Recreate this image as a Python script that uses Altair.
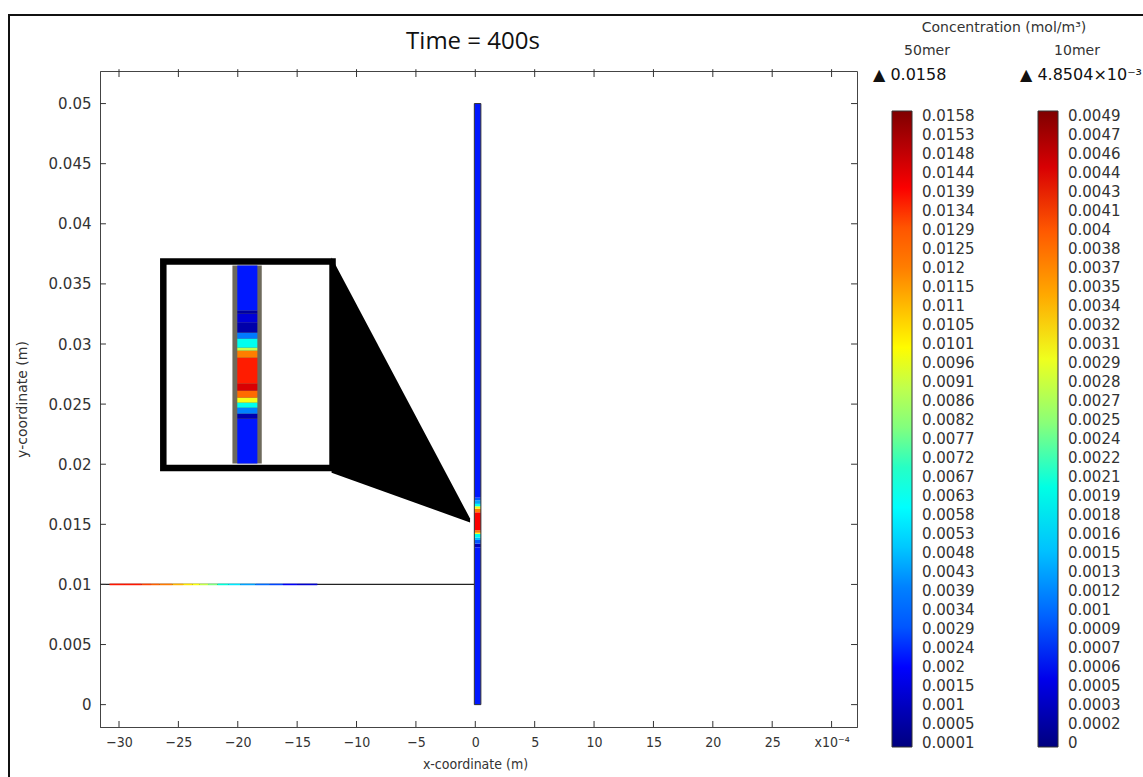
import altair as alt
import pandas as pd

# ---------------- data (x in units of 1e-4 m, y in m) ----------------
x_ticks = [-30, -25, -20, -15, -10, -5, 0, 5, 10, 15, 20, 25, 30]
y_ticks = [0.0, 0.005, 0.01, 0.015, 0.02, 0.025, 0.03, 0.035, 0.04, 0.045, 0.05]
X_DOMAIN = [-31.60, 32.14]
Y_DOMAIN = [-0.00186, 0.05271]

# colour-bar labels (top to bottom as printed)
labels_50mer = ["0.0158", "0.0153", "0.0148", "0.0144", "0.0139", "0.0134", "0.0129",
                "0.0125", "0.012", "0.0115", "0.011", "0.0105", "0.0101", "0.0096",
                "0.0091", "0.0086", "0.0082", "0.0077", "0.0072", "0.0067", "0.0063",
                "0.0058", "0.0053", "0.0048", "0.0043", "0.0039", "0.0034", "0.0029",
                "0.0024", "0.002", "0.0015", "0.001", "0.0005", "0.0001"]
labels_10mer = ["0.0049", "0.0047", "0.0046", "0.0044", "0.0043", "0.0041", "0.004",
                "0.0038", "0.0037", "0.0035", "0.0034", "0.0032", "0.0031", "0.0029",
                "0.0028", "0.0027", "0.0025", "0.0024", "0.0022", "0.0021", "0.0019",
                "0.0018", "0.0016", "0.0015", "0.0013", "0.0012", "0.001", "0.0009",
                "0.0007", "0.0006", "0.0005", "0.0003", "0.0002", "0"]
domain_50mer = [0.0, 0.015925]
domain_10mer = [-0.0000313, 0.004939]
max_50mer = "0.0158"
max_10mer = "4.8504×10⁻³"

# vertical channel at x ~ 0 (50mer concentration along y)
channel_x = [-0.08, 0.47]
strip_edges = [0.0, 0.0131, 0.0134, 0.0137, 0.0139, 0.0142, 0.0143, 0.0145, 0.0160,
               0.0163, 0.0165, 0.0167, 0.0170, 0.0172, 0.05]
strip_c = [0.0021, 0.0010, 0.0030, 0.0048, 0.0063, 0.0098, 0.0120, 0.0140, 0.0120,
           0.0098, 0.0063, 0.0045, 0.0030, 0.0021]

# horizontal inlet line at y = 0.01 (10mer concentration along x)
line_y = 0.01
line_extent = [-31.60, -0.08]
line_edges = [-30.8, -29.5, -28.1, -27.3, -26.6, -25.5, -24.6, -23.8, -23.2, -22.5,
              -21.7, -20.8, -19.8, -18.5, -17.3, -16.2, -15.0, -13.3]
line_c = [0.00429, 0.00429, 0.00414, 0.00395, 0.00375, 0.00345, 0.00320, 0.00305,
          0.00280, 0.00246, 0.00206, 0.00171, 0.00136, 0.00106, 0.00081, 0.00057, 0.00037]

# magnified inset of the channel
inset_box = {"x0": -26.27, "x1": -12.02, "y0": 0.01969, "y1": 0.03687}
inset_wall_x = [-20.45, -17.98]
inset_core_x = [-20.04, -18.35]
inset_edges = [0.02005, 0.02379, 0.02421, 0.02471, 0.02513, 0.02554, 0.02612, 0.02671,
               0.02887, 0.02945, 0.02970, 0.03045, 0.03095, 0.03178, 0.03253, 0.03278,
               0.03652]
inset_c = [0.0021, 0.0008, 0.0040, 0.0063, 0.0098, 0.0125, 0.0145, 0.0138, 0.0120,
           0.0090, 0.0063, 0.0038, 0.0007, 0.0014, 0.0005, 0.0021]
wedge_x = [-12.10, -0.44]
wedge_top = [0.03719, 0.01548]
wedge_bottom = [0.01930, 0.01515]

JET = ["#00007f", "#0000ff", "#0080ff", "#00ffff", "#80ff80",
       "#ffff00", "#ff8000", "#ff0000", "#7f0000"]

SANS = "DejaVu Sans"
COND = "DejaVu Sans Condensed, Liberation Sans Narrow, DejaVu Sans"
TXT = "#333333"

# ---------------- scales / axes ----------------
xs = alt.Scale(domain=X_DOMAIN, nice=False, zero=False)
ys = alt.Scale(domain=Y_DOMAIN, nice=False, zero=False)

x_axis = alt.Axis(values=x_ticks, ticks=False, tickSize=0, grid=False, format="d",
                  labelExpr="datum.value == 30 ? 'x10⁻⁴' : datum.label",
                  labelFont=COND, labelFontSize=14, labelColor=TXT, labelPadding=8,
                  title="x-coordinate (m)", titleFont=COND, titleFontSize=14,
                  titleFontWeight="normal", titleColor=TXT, titleX=375, titleY=37,
                  titleAlign="center", titleBaseline="middle")
y_axis = alt.Axis(values=y_ticks, ticks=False, tickSize=0, grid=False, format="~g",
                  labelFont=SANS, labelFontSize=15, labelColor=TXT, labelPadding=9,
                  title="y-coordinate (m)", titleFont=SANS, titleFontSize=14,
                  titleFontWeight="normal", titleColor=TXT, titleX=-78, titleY=328,
                  titleAngle=270, titleAlign="center", titleBaseline="middle")


def X(f):
    return alt.X(f, type="quantitative", scale=xs, axis=x_axis)


def Y(f):
    return alt.Y(f, type="quantitative", scale=ys, axis=y_axis)


def legend_for(labels, domain, lx):
    n = len(labels)
    lo = float(labels[-1])
    hi = float(labels[0])
    step = (hi - lo) / (n - 1)
    positions = [lo + k * step for k in range(n)]
    arr = "[" + ",".join("'%s'" % s for s in reversed(labels)) + "]"
    expr = "%s[round((datum.value - %r) / %r)]" % (arr, lo, step)
    return alt.Legend(orient="none", legendX=lx, legendY=40, direction="vertical",
                      title=None, gradientLength=636, gradientThickness=20,
                      gradientStrokeColor="#333", gradientStrokeWidth=1,
                      values=positions, labelExpr=expr, labelFont=SANS,
                      labelFontSize=15, labelColor=TXT, labelOffset=10,
                      labelOverlap=False, labelBaseline="middle", padding=0)


color50 = alt.Color("c:Q", scale=alt.Scale(domain=domain_50mer, range=JET, nice=False,
                                           clamp=True),
                    legend=legend_for(labels_50mer, domain_50mer, 792))
color10 = alt.Color("c:Q", scale=alt.Scale(domain=domain_10mer, range=JET, nice=False,
                                           clamp=True),
                    legend=legend_for(labels_10mer, domain_10mer, 938))

# ---------------- tables ----------------
strip_df = pd.DataFrame({"y0": strip_edges[:-1], "y1": strip_edges[1:], "c": strip_c,
                         "x0": channel_x[0], "x1": channel_x[1]})
line_df = pd.DataFrame({"x0": line_edges[:-1], "x1": line_edges[1:], "c": line_c,
                        "y": line_y})
inset_df = pd.DataFrame({"y0": inset_edges[:-1], "y1": inset_edges[1:], "c": inset_c,
                         "x0": inset_core_x[0], "x1": inset_core_x[1]})
wedge_df = pd.DataFrame({"x": wedge_x, "y": wedge_top, "y2": wedge_bottom})

tx = 0.5      # inward tick length in x units
ty = 0.0005   # inward tick length in y units
bottom_ticks = pd.DataFrame({"x": x_ticks, "y0": Y_DOMAIN[0], "y1": Y_DOMAIN[0] + ty})
top_ticks = pd.DataFrame({"x": x_ticks, "y0": Y_DOMAIN[1] - ty, "y1": Y_DOMAIN[1] + 0.00015})
left_ticks = pd.DataFrame({"y": y_ticks, "x0": X_DOMAIN[0], "x1": X_DOMAIN[0] + tx})
right_ticks = pd.DataFrame({"y": y_ticks, "x0": X_DOMAIN[1] - tx, "x1": X_DOMAIN[1]})
one = pd.DataFrame({"k": [0]})

# ---------------- layers ----------------
black_line = alt.Chart(pd.DataFrame({"x0": [line_extent[0]], "x1": [line_extent[1]],
                                     "y": [line_y]})).mark_rule(
    color="#222", strokeWidth=1.2).encode(x=X("x0"), x2="x1", y=Y("y"))

colored_line = alt.Chart(line_df).mark_rule(strokeWidth=1.6).encode(
    x=X("x0"), x2="x1", y=Y("y"), color=color10)

inset_frame = alt.Chart(pd.DataFrame([inset_box])).mark_rect(
    fill="white", stroke="black", strokeWidth=6.5).encode(
    x=X("x0"), x2="x1", y=Y("y0"), y2="y1")

inset_wall = alt.Chart(pd.DataFrame({"x0": [inset_wall_x[0]], "x1": [inset_wall_x[1]],
                                     "y0": [inset_edges[0]], "y1": [inset_edges[-1]]})
                       ).mark_rect(fill="#6e6a5c").encode(
    x=X("x0"), x2="x1", y=Y("y0"), y2="y1")

strip_rects = alt.Chart(strip_df).mark_rect().encode(
    x=X("x0"), x2="x1", y=Y("y0"), y2="y1", color=color50)
inset_rects = alt.Chart(inset_df).mark_rect().encode(
    x=X("x0"), x2="x1", y=Y("y0"), y2="y1", color=color50)
main50 = alt.layer(strip_rects, inset_rects)

strip_outline = alt.Chart(pd.DataFrame({"x0": [channel_x[0]], "x1": [channel_x[1]],
                                        "y0": [strip_edges[0]], "y1": [strip_edges[-1]]})
                          ).mark_rect(fillOpacity=0, stroke="#333", strokeWidth=1).encode(
    x=X("x0"), x2="x1", y=Y("y0"), y2="y1")

wedge = alt.Chart(wedge_df).mark_area(color="black").encode(
    x=X("x"), y=Y("y"), y2="y2")

tick_style = dict(color="#333", strokeWidth=1)
t_bottom = alt.Chart(bottom_ticks).mark_rule(**tick_style).encode(x=X("x"), y=Y("y0"), y2="y1")
t_top = alt.Chart(top_ticks).mark_rule(**tick_style).encode(x=X("x"), y=Y("y0"), y2="y1")
t_left = alt.Chart(left_ticks).mark_rule(**tick_style).encode(y=Y("y"), x=X("x0"), x2="x1")
t_right = alt.Chart(right_ticks).mark_rule(**tick_style).encode(y=Y("y"), x=X("x0"), x2="x1")


def label(text, x, y, size, font=SANS, align="center", color=TXT):
    return alt.Chart(one).mark_text(text=text, font=font, fontSize=size, align=align,
                                    baseline="middle", color=color).encode(
        x=alt.value(x), y=alt.value(y))


texts = [
    label("Time = 400s", 373, -29, 24, font="Open Sans", color="#111"),
    label("Concentration (mol/m³)", 904, -43, 14),
    label("50mer", 827, -20, 14),
    label("10mer", 977, -20, 14),
    label("▲ " + max_50mer, 773, 4, 16, align="left", color="#111"),
    label("▲ " + max_10mer, 920, 4, 16, align="left", color="#111"),
]

outer_frame = alt.Chart(one).mark_rect(fillOpacity=0, stroke="#111", strokeWidth=2).encode(
    x=alt.value(-91), x2=alt.value(1060), y=alt.value(-56), y2=alt.value(720))

chart = alt.layer(
    black_line, colored_line, inset_frame, inset_wall, main50, strip_outline, wedge,
    t_bottom, t_top, t_left, t_right, *texts, outer_frame
).resolve_scale(color="independent").properties(
    width=757, height=656,
    autosize=alt.AutoSizeParams(type="none"),
    padding={"left": 100, "top": 71, "right": 286, "bottom": 50},
).configure_view(stroke="#444", strokeWidth=1).configure_axis(
    domainColor="#444", domainWidth=1)

chart.save("out.html", embed_options={"renderer": "svg", "actions": False})
